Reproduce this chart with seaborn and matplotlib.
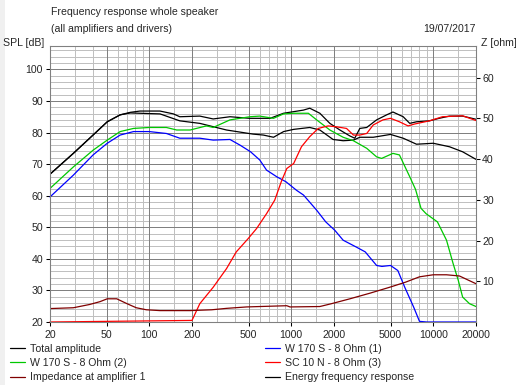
import matplotlib
matplotlib.use("Agg")
import matplotlib.pyplot as plt
import seaborn as sns
from matplotlib.lines import Line2D
from matplotlib.patches import Rectangle
from matplotlib.ticker import NullFormatter, NullLocator

# ---- data (Hz, dB / ohm) ----
total_f = [20, 29.2, 40.2, 50.6, 62.4, 73.6, 86, 119, 148, 164, 227, 282, 370, 511, 710, 882,
           1218, 1350, 1590, 1870, 2200, 2590, 2800, 3040, 3400, 3990, 4700, 5200, 6140, 6830,
           7620, 9400, 11000, 13000, 16100, 20000]
total_db = [66.8, 73.4, 79.2, 83.4, 85.6, 86.4, 86.8, 86.8, 85.9, 85.0, 85.2, 84.3, 85.0, 84.5, 84.5, 86.1,
            87.1, 87.7, 86.1, 82.9, 80.8, 78.9, 78.2, 81.3, 81.6, 84.0, 85.6, 86.5, 85.0, 82.9,
            83.4, 83.7, 84.5, 85.2, 85.2, 84.2]

energy_f = [20, 29.2, 40.2, 50.6, 62.4, 73.6, 86, 119, 164, 227, 350, 538, 636, 750, 883, 1040,
            1350, 1590, 1970, 2320, 2740, 3040, 3780, 5000, 6140, 7620, 10000, 13000, 16100, 20000]
energy_db = [66.8, 73.4, 79.2, 83.4, 85.6, 86.2, 86.1, 85.9, 83.7, 82.9, 80.8, 79.5, 79.2, 78.5, 80.3, 81.0,
             81.6, 80.8, 77.8, 77.4, 77.6, 78.5, 78.5, 79.4, 78.2, 76.3, 76.6, 75.5, 73.9, 71.5]

w2_f = [20, 29.2, 40.2, 50.6, 62.4, 77.5, 100, 132, 156, 194, 253, 282, 370, 511, 600, 750, 883,
        1040, 1320, 1510, 1870, 2320, 2740, 3400, 3990, 4330, 5200, 5780, 6830, 7500, 8200, 8900,
        10700, 12400, 13800, 15000, 16100, 18000, 20000]
w2_db = [62.3, 69.1, 74.4, 77.6, 80.3, 81.3, 81.6, 81.6, 80.8, 80.8, 82.1, 81.6, 84.0, 85.0, 85.2, 84.5, 85.9,
         86.1, 86.1, 84.0, 80.8, 78.5, 77.4, 75.0, 72.3, 71.8, 73.4, 72.9, 66.0, 62.0, 56.0, 54.3,
         51.7, 45.9, 38.5, 33.2, 27.9, 25.8, 24.9]

w1_f = [20, 29.2, 40.2, 50.6, 62.4, 77.5, 100, 132, 164, 227, 282, 370, 436, 517, 600, 670, 790,
        918, 1090, 1220, 1510, 1750, 2030, 2320, 2880, 3320, 3990, 4350, 5000, 5630, 6300, 7280,
        8000, 9000, 20000]
w1_db = [59.6, 66.5, 72.9, 76.6, 79.2, 80.3, 80.3, 79.7, 78.2, 78.2, 77.6, 77.8, 76.0, 73.9, 71.3, 68.1, 66.0,
         64.4, 61.7, 60.2, 55.4, 51.7, 49.0, 45.9, 43.7, 42.2, 37.9, 37.6, 37.9, 36.3, 31.0, 24.7,
         20.2, 20.0, 20.0]

sc_f = [20, 200, 227, 282, 350, 410, 497, 570, 670, 765, 850, 930, 1040, 1180, 1350, 1550, 1820,
        2090, 2450, 2740, 3040, 3400, 3780, 4420, 5000, 5780, 6650, 7400, 9400, 11600, 16100, 20000]
sc_db = [20.0, 20.5, 25.8, 31.0, 36.9, 42.2, 46.4, 49.6, 54.3, 58.6, 64.4, 68.6, 70.2, 75.5, 78.7, 81.3, 82.1,
         81.8, 81.3, 79.2, 79.2, 79.7, 82.4, 84.0, 84.5, 83.4, 82.1, 82.7, 83.7, 85.0, 85.3, 83.8]

imp_f = [20, 29.2, 38, 45, 50.6, 59, 69.7, 81, 95.5, 119, 194, 275, 350, 485, 600, 930, 980,
         1590, 1920, 2590, 3600, 5000, 6400, 8000, 10000, 12400, 15300, 20000]
imp_ohm = [3.3, 3.5, 4.3, 5.0, 5.7, 5.7, 4.5, 3.5, 3.0, 2.8, 2.8, 3.0, 3.35, 3.7, 3.8, 4.0, 3.7,
           3.8, 4.5, 5.7, 7.1, 8.6, 9.8, 11.1, 11.6, 11.6, 11.3, 9.4]

major_f = [20, 50, 100, 200, 500, 1000, 2000, 5000, 10000, 20000]
minor_f = [30, 40, 60, 70, 80, 90, 150, 300, 400, 600, 700, 800, 900, 1500,
           3000, 4000, 6000, 7000, 8000, 9000, 15000]
spl_ticks = [20, 30, 40, 50, 60, 70, 80, 90, 100]
spl_minor = [v for v in range(22, 107, 2) if v % 10]
z_ticks = [10, 20, 30, 40, 50, 60]

GREEN = "#00c800"
DARKRED = "#800000"
GRID_MAJ = "#808080"
GRID_MIN = "#c0c0c0"

sns.set_style("white")
plt.rcParams['font.family'] = ['Liberation Sans', 'DejaVu Sans']
FS = 7.6

fig = plt.figure(figsize=(5.24, 3.85), dpi=100)
fig.patch.set_facecolor("white")
fig.add_artist(Rectangle((0, 0), 5 / 524, 1, transform=fig.transFigure,
                         facecolor="#f0f0f0", edgecolor="none", zorder=-5))

ax = fig.add_axes([50 / 524, 1 - 322 / 385, 426 / 524, 276 / 385])
ax.set_xscale("log")
ax2 = ax.twinx()

# grid drawn by hand so only the wanted lines appear
glw = 0.72
for f in minor_f:
    ax.axvline(f, color=GRID_MIN, lw=glw, zorder=0)
for v in spl_minor:
    ax.axhline(v, color=GRID_MIN, lw=glw, zorder=0)
for f in major_f[1:-1]:
    ax.axvline(f, color=GRID_MAJ, lw=glw, zorder=0.5)
for v in spl_ticks[1:]:
    ax.axhline(v, color=GRID_MAJ, lw=glw, zorder=0.5)

lw = 0.9
sns.lineplot(x=total_f, y=total_db, ax=ax, color="black", lw=lw)
sns.lineplot(x=energy_f, y=energy_db, ax=ax, color="black", lw=lw)
sns.lineplot(x=w2_f, y=w2_db, ax=ax, color=GREEN, lw=lw)
sns.lineplot(x=w1_f, y=w1_db, ax=ax, color="blue", lw=lw, clip_on=False)
sns.lineplot(x=sc_f, y=sc_db, ax=ax, color="red", lw=lw, clip_on=False)
sns.lineplot(x=imp_f, y=imp_ohm, ax=ax2, color=DARKRED, lw=lw)

# axes / ticks
ax.set_xlim(20, 20000)
ax.set_ylim(20, 107.4)
ax2.set_ylim(0, 67.8)
ax.set_xticks(major_f, labels=[str(v) for v in major_f])
ax.xaxis.set_minor_locator(NullLocator())
ax.xaxis.set_minor_formatter(NullFormatter())
ax.set_yticks(spl_ticks, labels=[str(v) for v in spl_ticks])
ax.yaxis.set_minor_locator(NullLocator())
ax2.set_yticks(z_ticks, labels=[str(v) for v in z_ticks])
ax2.yaxis.set_minor_locator(NullLocator())
ax.grid(False)
ax2.grid(False)

ax.tick_params(axis="x", which="major", bottom=True, length=3, width=0.75,
               pad=2.5, labelsize=FS, color="black")
ax.tick_params(axis="y", which="major", left=True, length=3, width=0.75,
               pad=2, labelsize=FS, color="black")
ax2.tick_params(axis="y", right=True, length=3, width=0.75, pad=1.5,
                labelsize=FS, color="black")
ax.set_xlabel("")
ax.set_ylabel("")
ax2.set_ylabel("")
for a in (ax, ax2):
    for s in a.spines.values():
        s.set_color(GRID_MAJ)
        s.set_linewidth(0.75)

# header texts
fig.text(51 / 524, 1 - 12 / 385, "Frequency response whole speaker", fontsize=FS, va="center", ha="left")
fig.text(51 / 524, 1 - 29.5 / 385, "(all amplifiers and drivers)", fontsize=FS, va="center", ha="left")
fig.text(476 / 524, 1 - 29.5 / 385, "19/07/2017", fontsize=FS, va="center", ha="right")
fig.text(3 / 524, 1 - 43.5 / 385, "SPL [dB]", fontsize=FS, va="center", ha="left")
fig.text(481 / 524, 1 - 43.5 / 385, "Z [ohm]", fontsize=FS, va="center", ha="left")

# legend, two columns
def h(c):
    return Line2D([], [], color=c, lw=lw)

leg_kw = dict(loc="upper left", frameon=False, fontsize=FS, borderpad=0, borderaxespad=0,
              handlelength=1.45, handletextpad=0.45, labelspacing=0.39)
fig.legend([h("black"), h(GREEN), h(DARKRED)],
           ["Total amplitude", "W 170 S - 8 Ohm (2)", "Impedance at amplifier 1"],
           bbox_to_anchor=(10 / 524, 1 - 344 / 385), **leg_kw)
fig.legend([h("blue"), h("red"), h("black")],
           ["W 170 S - 8 Ohm (1)", "SC 10 N - 8 Ohm (3)", "Energy frequency response"],
           bbox_to_anchor=(265 / 524, 1 - 344 / 385), **leg_kw)

fig.savefig("out.png", dpi=100)
